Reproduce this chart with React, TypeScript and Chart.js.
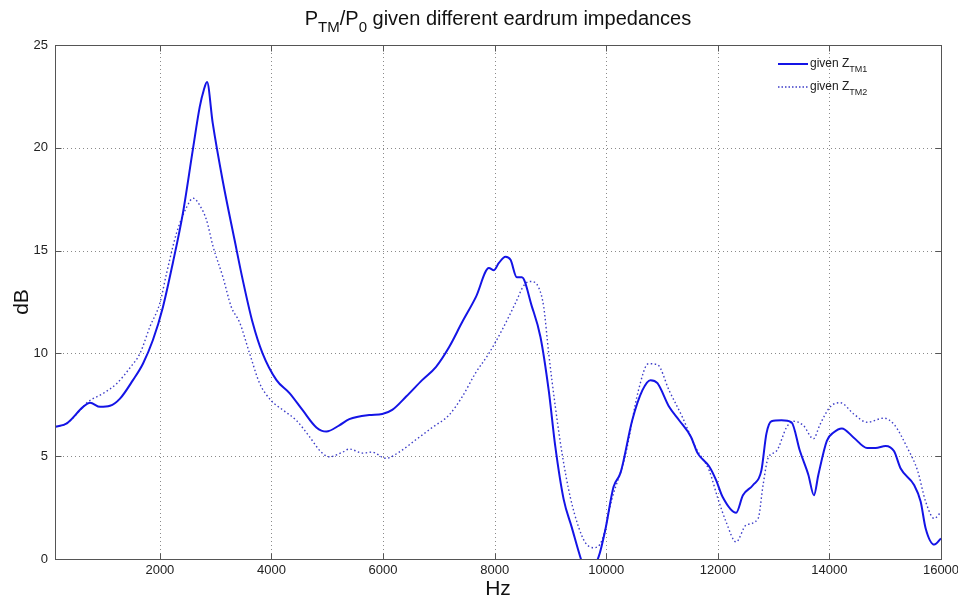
import React, { useEffect, useRef } from "react";
import { Chart, registerables } from "chart.js";

Chart.register(...registerables);

// ---- data ----
const freqTM1 = [123, 333, 624, 749, 928, 1106, 1285, 1517, 1696, 1875, 2054, 2232, 2411, 2590, 2715, 2786, 2845, 2947, 3126, 3340, 3483, 3662, 3840, 4090, 4323, 4555, 4805, 4984, 5216, 5395, 5753, 5985, 6164, 6414, 6700, 6950, 7182, 7414, 7665, 7897, 7987, 8076, 8195, 8285, 8397, 8487, 8665, 8821, 8969, 9088, 9237, 9381, 9535, 9650, 9863, 9982, 10130, 10257, 10466, 10647, 10793, 10918, 11127, 11306, 11517, 11637, 11846, 11967, 12089, 12328, 12450, 12632, 12780, 12871, 12961, 13141, 13321, 13472, 13622, 13723, 13802, 13954, 14074, 14223, 14437, 14676, 14827, 15008, 15157, 15277, 15518, 15635, 15724, 15880, 16000];
const dbTM1 = [6.43, 6.6, 7.4, 7.6, 7.4, 7.45, 7.8, 8.7, 9.5, 10.65, 12.25, 14.4, 16.8, 19.9, 22.0, 22.8, 23.2, 21.2, 18.4, 15.5, 13.6, 11.5, 10.0, 8.7, 8.07, 7.25, 6.4, 6.2, 6.5, 6.8, 7.0, 7.05, 7.25, 7.9, 8.7, 9.35, 10.3, 11.5, 12.75, 14.15, 14.05, 14.4, 14.7, 14.55, 13.7, 13.7, 12.3, 10.8, 8.2, 5.45, 2.9, 1.55, 0.1, -0.8, 0.1, 1.4, 3.5, 4.2, 6.75, 8.2, 8.7, 8.55, 7.4, 6.75, 5.95, 5.15, 4.5, 3.85, 3.0, 2.25, 3.1, 3.6, 4.3, 6.1, 6.7, 6.75, 6.65, 5.25, 4.1, 3.1, 4.1, 5.75, 6.15, 6.35, 5.9, 5.4, 5.4, 5.5, 5.25, 4.4, 3.6, 2.8, 1.5, 0.7, 1.0];

const freqTM2 = [123, 333, 624, 713, 981, 1232, 1464, 1643, 1822, 2000, 2120, 2298, 2477, 2596, 2715, 2834, 2953, 3131, 3281, 3430, 3608, 3787, 3996, 4204, 4443, 4681, 4890, 5038, 5276, 5395, 5633, 5800, 6051, 6289, 6587, 6884, 7182, 7420, 7659, 7897, 8135, 8373, 8522, 8642, 8790, 8880, 8969, 9088, 9207, 9356, 9505, 9624, 9773, 9922, 10100, 10339, 10577, 10756, 10918, 11127, 11365, 11607, 11846, 11998, 12149, 12328, 12507, 12722, 12811, 12900, 13052, 13232, 13352, 13532, 13713, 13833, 14013, 14194, 14437, 14676, 14974, 15157, 15398, 15580, 15724, 15880, 16000];
const dbTM2 = [6.43, 6.6, 7.4, 7.65, 8.05, 8.55, 9.3, 10.0, 11.3, 12.45, 13.9, 15.85, 17.1, 17.55, 17.2, 16.5, 15.2, 13.7, 12.25, 11.5, 10.0, 8.55, 7.7, 7.25, 6.75, 5.95, 5.2, 4.97, 5.2, 5.35, 5.15, 5.2, 4.9, 5.2, 5.8, 6.4, 7.0, 7.9, 9.05, 10.0, 11.15, 12.45, 13.3, 13.5, 13.2, 12.25, 10.0, 7.4, 5.15, 3.0, 1.55, 0.8, 0.55, 0.9, 2.9, 5.0, 8.2, 9.5, 9.45, 8.2, 6.9, 5.4, 4.3, 2.97, 1.8, 0.83, 1.65, 1.97, 3.6, 4.9, 5.25, 6.4, 6.7, 6.5, 5.85, 6.55, 7.4, 7.6, 7.05, 6.65, 6.85, 6.55, 5.4, 4.3, 2.8, 1.97, 2.3];

const xTicks = [2000, 4000, 6000, 8000, 10000, 12000, 14000, 16000];
const yTicks = [0, 5, 10, 15, 20, 25];

type Seg = { t: string; sub?: boolean };
const titleParts: Seg[] = [
  { t: "P" }, { t: "TM", sub: true }, { t: "/P" }, { t: "0", sub: true },
  { t: " given different eardrum impedances" },
];
const legendItems: { parts: Seg[]; dashed: boolean }[] = [
  { parts: [{ t: "given Z" }, { t: "TM1", sub: true }], dashed: false },
  { parts: [{ t: "given Z" }, { t: "TM2", sub: true }], dashed: true },
];
const xTitle = "Hz";
const yTitle = "dB";

const FONT = "'Liberation Sans', Arial, sans-serif";
const SOLID_COLOR = "#1414e6";
const DOT_COLOR = "#3c3cc8";

function richWidth(ctx: CanvasRenderingContext2D, parts: Seg[], size: number, sub: number, fam: string) {
  let w = 0;
  for (const p of parts) {
    ctx.font = `${p.sub ? sub : size}px ${fam}`;
    w += ctx.measureText(p.t).width;
  }
  return w;
}
function drawRich(ctx: CanvasRenderingContext2D, parts: Seg[], x: number, y: number, size: number, sub: number, subOff: number, fam: string) {
  let cx = x;
  ctx.textBaseline = "alphabetic";
  ctx.textAlign = "left";
  for (const p of parts) {
    ctx.font = `${p.sub ? sub : size}px ${fam}`;
    ctx.fillText(p.t, cx, p.sub ? y + subOff : y);
    cx += ctx.measureText(p.t).width;
  }
}

const decorPlugin = {
  id: "decor",
  beforeDatasetsDraw(chart: any) {
    const { ctx, chartArea: a, scales } = chart;
    ctx.save();
    ctx.strokeStyle = "#8a8a8a";
    ctx.lineWidth = 1;
    ctx.setLineDash([1, 3]);
    for (const v of xTicks) {
      const px = Math.round(scales.x.getPixelForValue(v)) + 0.5;
      if (px > a.right - 2) continue;
      ctx.beginPath(); ctx.moveTo(px, a.top); ctx.lineTo(px, a.bottom); ctx.stroke();
    }
    for (const v of yTicks) {
      const py = Math.round(scales.y.getPixelForValue(v)) + 0.5;
      if (py < a.top + 2 || py > a.bottom - 2) continue;
      ctx.beginPath(); ctx.moveTo(a.left, py); ctx.lineTo(a.right, py); ctx.stroke();
    }
    ctx.restore();
  },
  afterDatasetsDraw(chart: any) {
    const { ctx, chartArea: a, scales } = chart;
    ctx.save();
    ctx.setLineDash([]);
    ctx.strokeStyle = "#555";
    ctx.lineWidth = 1;
    const L = Math.round(a.left) + 0.5, R = Math.round(a.right) + 0.5;
    const T = Math.round(a.top) + 0.5, B = Math.round(a.bottom) + 0.5;
    ctx.strokeRect(L, T, R - L, B - T);
    const tl = 6;
    ctx.beginPath();
    for (const v of xTicks) {
      const px = Math.round(scales.x.getPixelForValue(v)) + 0.5;
      ctx.moveTo(px, B); ctx.lineTo(px, B - tl);
      ctx.moveTo(px, T); ctx.lineTo(px, T + tl);
    }
    for (const v of yTicks) {
      const py = Math.round(scales.y.getPixelForValue(v)) + 0.5;
      ctx.moveTo(L, py); ctx.lineTo(L + tl, py);
      ctx.moveTo(R, py); ctx.lineTo(R - tl, py);
    }
    ctx.stroke();

    // legend
    const lx0 = 778, lx1 = 808;
    legendItems.forEach((it, i) => {
      const ly = 64 + i * 23;
      ctx.strokeStyle = it.dashed ? DOT_COLOR : SOLID_COLOR;
      ctx.lineWidth = it.dashed ? 1.3 : 2;
      ctx.setLineDash(it.dashed ? [1.5, 2] : []);
      ctx.beginPath(); ctx.moveTo(lx0, ly); ctx.lineTo(lx1, ly); ctx.stroke();
      ctx.setLineDash([]);
      ctx.fillStyle = "#222";
      drawRich(ctx, it.parts, 810, ly + 3, 12, 9, 5, FONT);
    });

    // title
    ctx.fillStyle = "#111";
    const tw = richWidth(ctx, titleParts, 20, 15, FONT);
    drawRich(ctx, titleParts, 498 - tw / 2, 25, 20, 15, 7, FONT);

    // axis titles
    ctx.font = `21px ${FONT}`;
    ctx.textAlign = "center";
    ctx.textBaseline = "alphabetic";
    ctx.fillText(xTitle, (a.left + a.right) / 2, 595);
    ctx.save();
    ctx.translate(28, (a.top + a.bottom) / 2);
    ctx.rotate(-Math.PI / 2);
    ctx.fillText(yTitle, 0, 0);
    ctx.restore();
    ctx.restore();
  },
};

export default function App() {
  const ref = useRef<HTMLCanvasElement>(null);
  useEffect(() => {
    document.body.style.margin = "0";
    const canvas = ref.current!;
    const d1 = freqTM1.map((f, i) => ({ x: f, y: dbTM1[i] }));
    const d2 = freqTM2.map((f, i) => ({ x: f, y: dbTM2[i] }));
    const chart = new Chart(canvas, {
      type: "line",
      data: {
        datasets: [
          {
            label: "given Z_TM1", data: d1, borderColor: SOLID_COLOR, borderWidth: 2,
            pointRadius: 0, cubicInterpolationMode: "monotone", clip: 0 as any,
          },
          {
            label: "given Z_TM2", data: d2, borderColor: DOT_COLOR, borderWidth: 1.4,
            borderDash: [1.5, 2.5], pointRadius: 0, cubicInterpolationMode: "monotone", clip: 0 as any,
          },
        ],
      },
      options: {
        responsive: false,
        animation: false,
        events: [],
        layout: { padding: { left: 8, right: 17, top: 45, bottom: 0 } },
        plugins: { legend: { display: false }, tooltip: { enabled: false }, title: { display: false } },
        scales: {
          x: {
            type: "linear", min: 120, max: 16000,
            afterFit: (s: any) => { s.height = 38; s.paddingLeft = 0; s.paddingRight = 0; },
            afterBuildTicks: (s: any) => { s.ticks = xTicks.map((v) => ({ value: v })); },
            grid: { display: false, drawTicks: false },
            border: { display: false },
            ticks: {
              color: "#222", font: { family: FONT, size: 13 }, padding: 4, maxRotation: 0, autoSkip: false,
              callback: (v: any) => String(v),
            },
          },
          y: {
            type: "linear", min: 0, max: 25,
            afterFit: (s: any) => { s.width = 47; s.paddingTop = 0; s.paddingBottom = 0; },
            afterBuildTicks: (s: any) => { s.ticks = yTicks.map((v) => ({ value: v })); },
            grid: { display: false, drawTicks: false },
            border: { display: false },
            ticks: { color: "#222", font: { family: FONT, size: 13 }, padding: 7, callback: (v: any) => String(v) },
          },
        },
      },
      plugins: [decorPlugin],
    });
    return () => chart.destroy();
  }, []);
  return (
    <div style={{ width: 958, height: 597 }}>
      <canvas ref={ref} width={958} height={597} style={{ display: "block" }} />
    </div>
  );
}
